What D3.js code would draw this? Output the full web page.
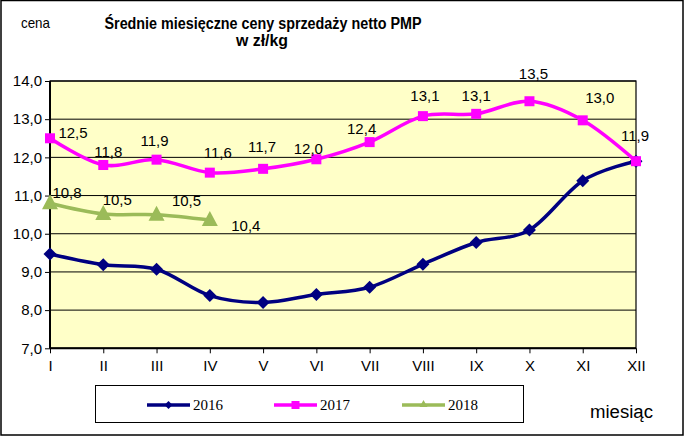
<!DOCTYPE html>
<html><head><meta charset="utf-8">
<script src="https://cdn.jsdelivr.net/npm/d3@7"></script>
<style>body{margin:0;background:#fff}svg{display:block}</style>
</head><body>
<svg id="c" width="685" height="437"></svg>
<script>
const months = ["I","II","III","IV","V","VI","VII","VIII","IX","X","XI","XII"];
const s2016 = [9.47, 9.19, 9.07, 8.38, 8.2, 8.41, 8.6, 9.2, 9.77, 10.1, 11.39, 11.9];
const s2017 = [12.5, 11.8, 11.94, 11.6, 11.7, 11.95, 12.4, 13.08, 13.14, 13.47, 12.97, 11.9];
const s2018 = [10.8, 10.52, 10.5, 10.36];
const labels2017 = ["12,5","11,8","11,9","11,6","11,7","12,0","12,4","13,1","13,1","13,5","13,0","11,9"];
const labels2018 = ["10,8","10,5","10,5","10,4"];
const yTicks = [7,8,9,10,11,12,13,14];
const seriesNames = ["2016","2017","2018"];
// label offsets (dx, dy) relative to point, in px (styling)
const off2017 = [[23,-6],[5,-13],[-2,-19],[8,-20],[-1,-22],[-8,-11],[-8,-13],[2,-20],[0,-18],[4,-27],[17,-23],[-1,-25]];
const off2018 = [[17,-10],[14,-14],[30,-14],[36,6]];

const svg = d3.select("#c");
const L=50, R=636, T=81, B=348.3;
const x = d3.scalePoint().domain(months).range([L,R]);
const y = d3.scaleLinear().domain([7,14]).range([B,T]);

// frame
svg.append("rect").attr("x",1).attr("y",0.5).attr("width",682).attr("height",434.5)
  .attr("fill","#fff").attr("stroke","#000").attr("stroke-width",1.5);

// plot area
svg.append("rect").attr("x",L).attr("y",T).attr("width",R-L).attr("height",B-T).attr("fill","#FFFFC8");
// gridlines
svg.append("g").selectAll("line").data(yTicks).join("line")
  .attr("x1",L).attr("x2",R).attr("y1",d=>y(d)).attr("y2",d=>y(d))
  .attr("stroke","#000").attr("stroke-width",1);
// plot border
svg.append("rect").attr("x",L).attr("y",T).attr("width",R-L).attr("height",B-T)
  .attr("fill","none").attr("stroke","#000").attr("stroke-width",1.2);
svg.append("line").attr("x1",L).attr("x2",R).attr("y1",B).attr("y2",B).attr("stroke","#000").attr("stroke-width",2);
svg.append("line").attr("x1",L).attr("x2",L).attr("y1",T).attr("y2",B).attr("stroke","#000").attr("stroke-width",2);

// axes
const fmt = d=>d3.format(".1f")(d).replace(".",",");
const yAxis = svg.append("g").attr("transform",`translate(${L},0)`)
  .call(d3.axisLeft(y).tickValues(yTicks).tickFormat(fmt).tickSize(5).tickPadding(3));
yAxis.select(".domain").remove();
yAxis.selectAll("text").attr("font-family","Liberation Sans, Arial, sans-serif").attr("font-size","15px").attr("fill","#000");
const xAxis = svg.append("g").attr("transform",`translate(0,${B})`)
  .call(d3.axisBottom(x).tickSize(5).tickPadding(7));
xAxis.select(".domain").remove();
xAxis.selectAll("text").attr("font-family","Liberation Sans, Arial, sans-serif").attr("font-size","15px").attr("fill","#000");

const line = d3.line().x((d,i)=>x(months[i])).y(d=>y(d)).curve(d3.curveCardinal.tension(0));
const colors = ["#000080","#FF00FF","#9BBB59"];
const datas = [s2016,s2017,s2018];

function marker(g, type, cx, cy, col){
  if(type===0){
    g.append("path").attr("d",`M${cx},${cy-6.5}L${cx+6.5},${cy}L${cx},${cy+6.5}L${cx-6.5},${cy}Z`).attr("fill",col);
  } else if(type===1){
    g.append("rect").attr("x",cx-5).attr("y",cy-5).attr("width",10).attr("height",10).attr("fill",col);
  } else {
    g.append("path").attr("d",`M${cx},${cy-9}L${cx+8},${cy+6}L${cx-8},${cy+6}Z`).attr("fill",col);
  }
}

[2,0,1].forEach(k=>{
  const g = svg.append("g");
  g.append("path").attr("d",line(datas[k])).attr("fill","none").attr("stroke",colors[k]).attr("stroke-width",3.5);
  datas[k].forEach((v,i)=>marker(g,k,x(months[i]),y(v),colors[k]));
});

const lab = svg.append("g").attr("font-family","Liberation Sans, Arial, sans-serif").attr("font-size","15px").attr("fill","#000").attr("text-anchor","middle");
s2017.forEach((v,i)=>lab.append("text").attr("x",x(months[i])+off2017[i][0]).attr("y",y(v)+off2017[i][1]).attr("dy","0.35em").text(labels2017[i]));
s2018.forEach((v,i)=>lab.append("text").attr("x",x(months[i])+off2018[i][0]).attr("y",y(v)+off2018[i][1]).attr("dy","0.35em").text(labels2018[i]));

// titles
svg.append("text").attr("x",263).attr("y",29).attr("text-anchor","middle")
  .attr("font-family","Liberation Sans, Arial, sans-serif").attr("font-weight","bold").attr("font-size","16px")
  .attr("textLength",317).attr("lengthAdjust","spacingAndGlyphs").text("Średnie miesięczne ceny sprzedaży netto PMP");
svg.append("text").attr("x",262).attr("y",46).attr("text-anchor","middle")
  .attr("font-family","Liberation Sans, Arial, sans-serif").attr("font-weight","bold").attr("font-size","16px")
  .attr("textLength",52).attr("lengthAdjust","spacingAndGlyphs").text("w zł/kg");
svg.append("text").attr("x",21).attr("y",28).attr("font-family","Liberation Sans, Arial, sans-serif").attr("font-size","15px")
  .attr("textLength",29).attr("lengthAdjust","spacingAndGlyphs").text("cena");
svg.append("text").attr("x",590).attr("y",418).attr("font-family","Liberation Sans, Arial, sans-serif").attr("font-size","18px")
  .attr("textLength",63).attr("lengthAdjust","spacingAndGlyphs").text("miesiąc");

// legend
svg.append("rect").attr("x",95.5).attr("y",385.5).attr("width",428).attr("height",37).attr("fill","#fff").attr("stroke","#000").attr("stroke-width",1);
const lx = [147,274,402];
seriesNames.forEach((n,k)=>{
  const g = svg.append("g");
  g.append("line").attr("x1",lx[k]).attr("x2",lx[k]+43).attr("y1",405).attr("y2",405).attr("stroke",colors[k]).attr("stroke-width",3.5);
  const cx = lx[k]+21.5;
  if(k===0) g.append("path").attr("d",`M${cx},${401}L${cx+4},405L${cx},409L${cx-4},405Z`).attr("fill",colors[k]);
  else if(k===1) g.append("rect").attr("x",cx-4).attr("y",401).attr("width",8).attr("height",8).attr("fill",colors[k]);
  else g.append("path").attr("d",`M${cx},400L${cx+4},407L${cx-4},407Z`).attr("fill",colors[k]);
  g.append("text").attr("x",lx[k]+46).attr("y",410).attr("font-family","Liberation Serif, Times New Roman, serif").attr("font-size","15px").text(n);
});
</script>
</body></html>
